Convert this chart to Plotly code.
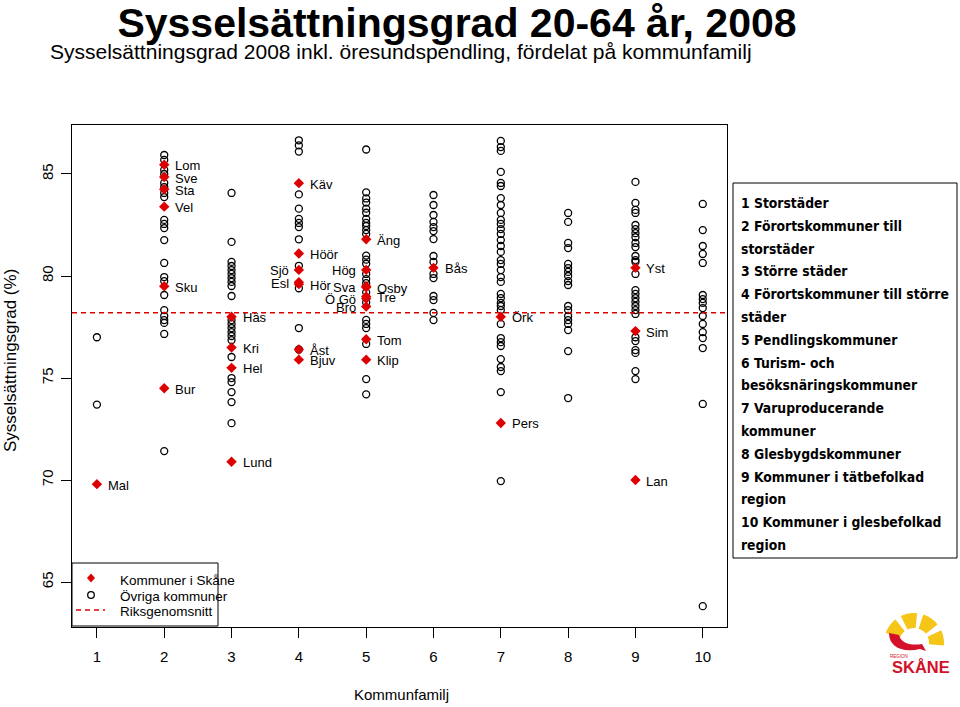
import math
import plotly.graph_objects as go

# ---------------- data ----------------
families = [1, 2, 3, 4, 5, 6, 7, 8, 9, 10]
family_names = [
    "1 Storstäder", "2 Förortskommuner till", "storstäder", "3 Större städer",
    "4 Förortskommuner till större", "städer", "5 Pendlingskommuner",
    "6 Turism- och", "besöksnäringskommuner", "7 Varuproducerande", "kommuner",
    "8 Glesbygdskommuner", "9 Kommuner i tätbefolkad", "region",
    "10 Kommuner i glesbefolkad", "region",
]

# Övriga kommuner (open circles), per kommunfamilj
other_f1 = [77.0, 73.7]
other_f2 = [85.93, 85.69, 85.2, 85.0, 84.56, 84.36, 84.07, 83.87, 82.75, 82.55, 82.35,
            81.76, 80.64, 79.95, 79.75, 79.07, 78.33, 78.04, 77.84, 77.7, 77.16, 71.42]
other_f3 = [84.07, 81.67, 80.69, 80.49, 80.29, 80.1, 79.9, 79.71, 79.51, 79.02, 77.84,
            77.65, 77.45, 77.25, 77.06, 76.86, 76.03, 75.0, 74.8, 74.31, 73.82, 72.79]
other_f4 = [86.65, 86.4, 86.1, 84.0, 83.3, 82.8, 82.6, 82.4, 81.8, 80.5, 79.4, 77.45, 76.4]
other_f5 = [86.2, 84.1, 83.8, 83.6, 83.3, 83.1, 82.8, 82.6, 82.45, 82.25, 82.06, 81.0,
            80.8, 80.6, 80.1, 79.85, 79.65, 79.2, 78.7, 77.85, 77.65, 77.45, 76.67, 74.95, 74.2]
other_f6 = [83.97, 83.48, 82.99, 82.65, 82.4, 82.2, 81.81, 80.98, 80.69, 80.1, 79.9,
            79.02, 78.82, 78.19, 77.84]
other_f7 = [86.62, 86.32, 86.13, 85.1, 84.56, 84.41, 83.82, 83.48, 83.09, 82.75, 82.55,
            82.3, 82.06, 81.76, 81.47, 81.18, 80.78, 80.59, 80.29, 79.95, 79.71, 79.12,
            78.92, 78.68, 78.53, 78.33, 77.65, 76.96, 76.76, 76.57, 75.93, 75.54, 75.34,
            74.31, 69.95]
other_f8 = [83.09, 82.65, 81.62, 81.37, 80.59, 80.39, 80.2, 80.0, 79.75, 79.56, 78.53,
            78.33, 78.04, 77.84, 77.65, 77.35, 76.32, 74.02]
other_f9 = [84.61, 83.58, 83.24, 83.09, 82.5, 82.3, 82.1, 81.9, 81.62, 81.42, 80.98,
            80.78, 80.69, 80.1, 79.31, 79.12, 78.92, 78.73, 78.53, 78.33, 78.14, 77.0,
            76.81, 76.37, 76.23, 75.34, 74.95]
other_f10 = [83.53, 82.25, 81.47, 81.08, 80.64, 79.07, 78.87, 78.68, 78.43, 78.04,
             77.65, 77.25, 76.96, 76.47, 73.73, 63.82]
other_values = [other_f1, other_f2, other_f3, other_f4, other_f5,
                other_f6, other_f7, other_f8, other_f9, other_f10]

# Kommuner i Skåne (red), name / family / value / label side
skane_names = ["Mal", "Lom", "Sve", "Sta", "Vel", "Sku", "Bur",
               "Häs", "Kri", "Hel", "Lund",
               "Käv", "Höör", "Sjö", "Esl", "Hör", "Åst", "Bjuv",
               "Äng", "Hög", "Sva", "Osby", "Tre", "Ö Gö", "Bro", "Tom", "Klip",
               "Bås", "Örk", "Pers", "Yst", "Sim", "Lan"]
skane_family = [1, 2, 2, 2, 2, 2, 2,
                3, 3, 3, 3,
                4, 4, 4, 4, 4, 4, 4,
                5, 5, 5, 5, 5, 5, 5, 5, 5,
                6, 7, 7, 9, 9, 9]
skane_values = [69.8, 85.45, 84.85, 84.25, 83.4, 79.5, 74.5,
                78.0, 76.5, 75.5, 70.9,
                84.55, 81.1, 80.3, 79.7, 79.6, 76.4, 75.9,
                81.8, 80.3, 79.5, 79.45, 79.0, 78.9, 78.5, 76.9, 75.9,
                80.4, 78.0, 72.8, 80.4, 77.3, 70.0]
skane_side = ["r", "r", "r", "r", "r", "r", "r",
              "r", "r", "r", "r",
              "r", "r", "l", "l", "r", "r", "r",
              "r", "l", "l", "r", "r", "l", "l", "r", "r",
              "r", "r", "r", "r", "r", "r"]

riksgenomsnitt = 78.2
y_ticks = [65, 70, 75, 80, 85]

RED = "#dd0000"
FONT = "Liberation Sans, Arial, sans-serif"
BOXFONT = "DejaVu Sans Condensed, Liberation Sans Narrow, Liberation Sans, sans-serif"

# plot area in pixels
L, R, T, B = 72, 727, 125, 627
W, H = 960, 707


def px(x, y):
    return (x - L) / (R - L), (B - y) / (B - T)


def note(x, y, text, size, family=FONT, xanchor="center", color="black", angle=0):
    ax, ay = px(x, y)
    return dict(x=ax, y=ay, xref="paper", yref="paper", showarrow=False, text=text,
                xanchor=xanchor, yanchor="middle", textangle=angle,
                font=dict(family=family, size=size, color=color))


fig = go.Figure()

ox, oy = [], []
for f, vals in zip(families, other_values):
    ox += [f] * len(vals)
    oy += vals
fig.add_trace(go.Scatter(x=ox, y=oy, mode="markers", showlegend=False,
                         marker=dict(symbol="circle-open", size=7, color="black",
                                     line=dict(width=1.3, color="black"))))
fig.add_trace(go.Scatter(x=skane_family, y=skane_values, mode="markers", showlegend=False,
                         marker=dict(symbol="diamond", size=8, color=RED,
                                     line=dict(width=0))))

annotations = []
for n, f, v, s in zip(skane_names, skane_family, skane_values, skane_side):
    annotations.append(dict(x=f, y=v, xref="x", yref="y", text=n, showarrow=False,
                            xanchor="left" if s == "r" else "right", yanchor="middle",
                            xshift=9 if s == "r" else -8, yshift=-1,
                            font=dict(family=FONT, size=13, color="black")))

shapes = [dict(type="line", xref="paper", yref="y", x0=0, x1=1,
               y0=riksgenomsnitt, y1=riksgenomsnitt,
               line=dict(color=RED, width=1.3, dash="5px,4px"))]

annotations.append(note(401, 52, "Sysselsättningsgrad 2008 inkl. öresundspendling, "
                                 "fördelat på kommunfamilj", 21))
annotations.append(note(10, 361, "Sysselsättningsgrad (%)", 17, angle=-90))
annotations.append(note(401, 695, "Kommunfamilj", 15))

# legend box
lx0, ly0 = px(72, 626)
lx1, ly1 = px(218, 563)
shapes.append(dict(type="rect", xref="paper", yref="paper", x0=lx0, x1=lx1, y0=ly0, y1=ly1,
                   line=dict(color="black", width=1), fillcolor="white", layer="above"))
mx, my = px(91, 578)
shapes.append(dict(type="path", xref="paper", yref="paper", xsizemode="pixel",
                   ysizemode="pixel", xanchor=mx, yanchor=my,
                   path="M 0 4.5 L 4 0 L 0 -4.5 L -4 0 Z", fillcolor=RED,
                   line=dict(width=0), layer="above"))
cx_, cy_ = px(91, 595)
shapes.append(dict(type="circle", xref="paper", yref="paper", xsizemode="pixel",
                   ysizemode="pixel", xanchor=cx_, yanchor=cy_, x0=-3.3, x1=3.3,
                   y0=-3.3, y1=3.3, line=dict(color="black", width=1.3), layer="above"))
dx0, dy0 = px(76, 610)
dx1, _ = px(105, 610)
shapes.append(dict(type="line", xref="paper", yref="paper", x0=dx0, x1=dx1, y0=dy0, y1=dy0,
                   line=dict(color=RED, width=1.3, dash="5px,4px"), layer="above"))
for txt, yy in [("Kommuner i Skåne", 580), ("Övriga kommuner", 596), ("Riksgenomsnitt", 611)]:
    annotations.append(note(118, yy, txt, 13.5, xanchor="left"))

# right family box
rx0, ry0 = px(733, 558)
rx1, ry1 = px(957, 183)
shapes.append(dict(type="rect", xref="paper", yref="paper", x0=rx0, x1=rx1, y0=ry0, y1=ry1,
                   line=dict(color="black", width=1), fillcolor="white"))
for i, line in enumerate(family_names):
    annotations.append(note(739, 203 + i * 22.8, "<b>" + line + "</b>", 13.8,
                            family=BOXFONT, xanchor="left"))

# Region Skåne logo (approximation)
gx, gy = px(914, 643)
for a0, a1 in [(-5, 25), (38, 72), (84, 116), (128, 160)]:
    pts = []
    for k in range(7):
        a = math.radians(a0 + (a1 - a0) * k / 6)
        pts.append((30 * math.cos(a), 30 * math.sin(a)))
    for k in range(6, -1, -1):
        a = math.radians(a0 + (a1 - a0) * k / 6)
        pts.append((15 * math.cos(a), 15 * math.sin(a)))
    path = "M " + " L ".join(f"{x:.1f} {y:.1f}" for x, y in pts) + " Z"
    shapes.append(dict(type="path", xref="paper", yref="paper", xsizemode="pixel",
                       ysizemode="pixel", xanchor=gx, yanchor=gy, path=path,
                       fillcolor="#f5c518", line=dict(width=0)))
shapes.append(dict(type="path", xref="paper", yref="paper", xsizemode="pixel",
                   ysizemode="pixel", xanchor=gx, yanchor=gy,
                   path="M -25 10 C -25 -4, -12 -10, 6 -6 L 12 -8 L 8 -1 "
                        "C -4 -3, -13 0, -15 8 Z",
                   fillcolor="#d4102a", line=dict(width=0)))
shapes.append(dict(type="circle", xref="paper", yref="paper", xsizemode="pixel",
                   ysizemode="pixel", xanchor=gx, yanchor=gy, x0=-9, x1=-4, y0=1, y1=6,
                   fillcolor="white", line=dict(width=0)))
annotations.append(note(899, 656, "REGION", 4.5, color="#d4102a"))
annotations.append(note(921, 667, "<b>SKÅNE</b>", 16.5, color="#d4102a"))

fig.update_layout(
    width=W, height=H,
    margin=dict(l=L, r=W - R, t=T, b=H - B),
    paper_bgcolor="white", plot_bgcolor="white",
    title=dict(text="<b>Sysselsättningsgrad 20-64 år, 2008</b>", x=457 / W, y=1 - 23 / H,
               xanchor="center", yanchor="middle",
               font=dict(family=FONT, size=41, color="black")),
    xaxis=dict(range=[0.63, 10.36], tickmode="array", tickvals=families,
               ticktext=[str(f) for f in families], ticks="outside", ticklen=10,
               tickcolor="black", showline=True, linecolor="black", linewidth=1,
               mirror=True, showgrid=False, zeroline=False, ticklabelstandoff=6,
               tickfont=dict(family=FONT, size=15, color="black")),
    yaxis=dict(range=[62.8, 87.4], tickmode="array", tickvals=y_ticks,
               ticktext=[str(t) for t in y_ticks], ticks="outside", ticklen=10,
               tickcolor="black", showline=True, linecolor="black", linewidth=1,
               mirror=True, showgrid=False, zeroline=False, tickangle=-90,
               ticklabelstandoff=2,
               tickfont=dict(family=FONT, size=15, color="black")),
    shapes=shapes, annotations=annotations, showlegend=False,
)

fig.write_html("out.html", config={"displayModeBar": False},
               post_script="document.body.style.margin='0';")
